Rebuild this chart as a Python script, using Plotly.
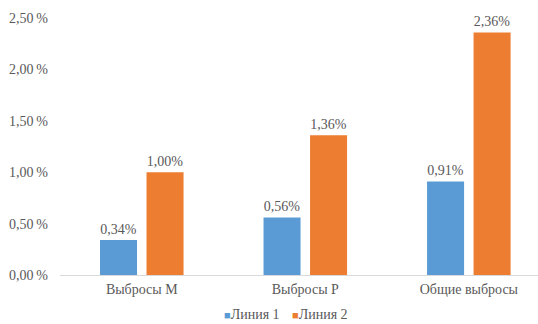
import plotly.graph_objects as go

categories = ["Выбросы М", "Выбросы Р", "Общие выбросы"]
line1 = [0.34, 0.56, 0.91]
line2 = [1.00, 1.36, 2.36]
series_names = ["Линия 1", "Линия 2"]
series_colors = ["#5b9bd5", "#ed7d31"]
y_ticks = [0.0, 0.5, 1.0, 1.5, 2.0, 2.5]


def pct(v, sep=""):
    return f"{v:.2f}".replace(".", ",") + sep + "%"


FONT = "Liberation Serif, Times New Roman, serif"
GREY = "#595959"

fig = go.Figure()
for name, vals, color in zip(series_names, [line1, line2], series_colors):
    fig.add_trace(go.Bar(
        x=categories, y=vals, name=name,
        marker=dict(color=color, line=dict(width=0)),
        text=[pct(v) for v in vals],
        textposition="outside",
        textfont=dict(family=FONT, size=14, color=GREY),
        cliponaxis=False,
    ))

# compact legend: small coloured square followed by the series name
legend_x = [223, 291]
for name, color, x in zip(series_names, series_colors, legend_x):
    fig.add_annotation(
        xref="paper", yref="paper",
        x=(x - 60) / 478, y=-0.152, xanchor="left", yanchor="middle",
        text=f'<span style="color:{color};font-size:11px">■</span>{name}',
        showarrow=False, borderpad=0,
        font=dict(family=FONT, size=14, color=GREY),
    )

fig.update_layout(
    width=538, height=324,
    margin=dict(l=60, r=0, t=18, b=49, autoexpand=False),
    paper_bgcolor="white", plot_bgcolor="white",
    font=dict(family=FONT, size=14, color=GREY),
    barmode="group", bargap=0.431, bargroupgap=0.204,
    showlegend=False,
)
fig.update_xaxes(
    range=[-0.5, 2.423], showgrid=False, ticks="",
    showline=True, linecolor="#d9d9d9", linewidth=1,
    tickfont=dict(family=FONT, size=14, color=GREY),
    ticklabelstandoff=1, automargin=False,
)
fig.update_yaxes(
    range=[0, 2.5], showgrid=False, zeroline=False, showline=False,
    tickvals=y_ticks, ticktext=[pct(v, "\u2009") for v in y_ticks],
    tickfont=dict(family=FONT, size=14, color=GREY),
    ticks="", ticklabelstandoff=11, automargin=False,
)

fig.write_html("out.html")
